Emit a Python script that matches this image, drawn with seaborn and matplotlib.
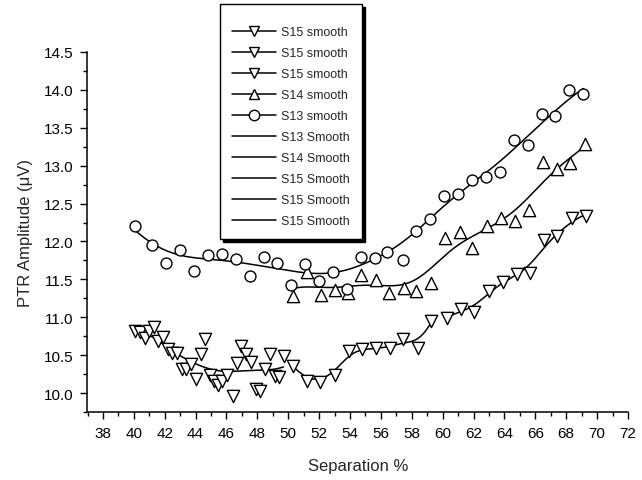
import numpy as np
import pandas as pd
import matplotlib
matplotlib.use("Agg")
import matplotlib.pyplot as plt
from matplotlib.lines import Line2D
from matplotlib.ticker import MultipleLocator
import seaborn as sns

# ---------------- data ----------------
s13_x = [40.1, 41.2, 42.1, 43.0, 43.9, 44.8, 45.7, 46.6, 47.5, 48.4, 49.3, 50.2, 51.1,
         52.0, 52.9, 53.8, 54.7, 55.6, 56.4, 57.4, 58.3, 59.2, 60.1, 61.0, 61.9, 62.8,
         63.7, 64.6, 65.5, 66.4, 67.3, 68.2, 69.1]
s13_y = [12.20, 11.95, 11.71, 11.89, 11.61, 11.82, 11.84, 11.77, 11.54, 11.79, 11.72, 11.42, 11.70,
         11.48, 11.60, 11.37, 11.79, 11.78, 11.86, 11.75, 12.14, 12.30, 12.60, 12.63, 12.81, 12.85,
         12.92, 13.34, 13.27, 13.68, 13.65, 14.00, 13.95]

s14_x = [50.3, 51.2, 52.1, 53.0, 53.9, 54.7, 55.7, 56.5, 57.5, 58.3, 59.25, 60.15, 61.1,
         61.9, 62.9, 63.8, 64.7, 65.6, 66.5, 67.4, 68.25, 69.2]
s14_y = [11.28, 11.60, 11.30, 11.36, 11.32, 11.56, 11.49, 11.32, 11.38, 11.35, 11.45, 12.05, 12.13,
         11.91, 12.20, 12.31, 12.27, 12.42, 13.05, 12.95, 13.03, 13.29]

s15a_x = [40.07, 40.39, 40.72, 41.0, 41.3, 41.58, 41.9, 42.22, 42.5, 42.8, 43.09, 43.41, 43.73,
          44.01, 44.32, 44.6, 44.92, 45.18, 45.46, 45.74, 46.06, 46.39, 46.68, 46.97, 47.29,
          47.61, 47.94, 48.2, 48.47, 48.8, 49.12, 49.4, 49.7]
s15a_y = [10.82, 10.80, 10.73, 10.82, 10.87, 10.69, 10.74, 10.58, 10.53, 10.53, 10.32, 10.32, 10.38,
          10.18, 10.51, 10.71, 10.24, 10.16, 10.10, 10.16, 10.24, 9.96, 10.40, 10.62, 10.51,
          10.41, 10.05, 10.03, 10.32, 10.51, 10.23, 10.21, 10.49]

s15b_x = [50.3, 51.21, 52.07, 53.0, 53.92, 54.79, 55.69, 56.6, 57.46, 58.38, 59.25]
s15b_y = [10.36, 10.16, 10.15, 10.24, 10.56, 10.58, 10.59, 10.59, 10.71, 10.60, 10.95]

s15c_x = [60.26, 61.19, 62.05, 62.97, 63.88, 64.78, 65.67, 66.57, 67.43, 68.36, 69.27]
s15c_y = [10.99, 11.11, 11.07, 11.35, 11.47, 11.57, 11.58, 12.02, 12.07, 12.31, 12.34]

legend_labels = ["S15 smooth", "S15 smooth", "S15 smooth", "S14 smooth", "S13 smooth",
                 "S13 Smooth", "S14 Smooth", "S15 Smooth", "S15 Smooth", "S15 Smooth"]

x_ticks = list(range(38, 73, 2))
y_ticks = [10.0, 10.5, 11.0, 11.5, 12.0, 12.5, 13.0, 13.5, 14.0, 14.5]


def local_linear(xs, ys, bw, n=200):
    """Gaussian-weighted local linear smoother evaluated over the data range."""
    x = np.asarray(xs, float)
    y = np.asarray(ys, float)
    grid = np.linspace(x.min(), x.max(), n)
    out = []
    for g in grid:
        w = np.exp(-0.5 * ((x - g) / bw) ** 2)
        X = np.column_stack([np.ones_like(x), x - g])
        W = np.diag(w)
        beta = np.linalg.solve(X.T @ W @ X, X.T @ W @ y)
        out.append(beta[0])
    return grid, np.array(out)


# ---------------- style ----------------
sns.set_theme(style="ticks")
plt.rcParams["font.family"] = ["Liberation Sans", "DejaVu Sans"]

fig = plt.figure(figsize=(6.42, 4.81), dpi=100)
ax = fig.add_axes([87.5 / 642, 68 / 481, 540.5 / 642, 360 / 481])

mk = dict(facecolor="white", edgecolor="black", linewidth=1.0, zorder=3)

series = [
    (s15a_x, s15a_y, "v", 1.3),
    (s15b_x, s15b_y, "v", 0.75),
    (s15c_x, s15c_y, "v", 0.9),
    (s14_x, s14_y, "^", 1.5),
    (s13_x, s13_y, "o", 1.8),
]

for xs, ys, m, bw in series:
    df = pd.DataFrame({"x": xs, "y": ys})
    sns.scatterplot(data=df, x="x", y="y", marker=m, s=78 if m != "o" else 62, ax=ax, **mk)
    gx, gy = local_linear(xs, ys, bw)
    sns.lineplot(x=gx, y=gy, ax=ax, color="black", lw=1.1, estimator=None, sort=False)

ax.set_xlim(37, 72)
ax.set_ylim(9.75, 14.5)
ax.set_xticks(x_ticks)
ax.set_yticks(y_ticks)
ax.set_yticklabels([f"{v:.1f}" for v in y_ticks])
ax.xaxis.set_minor_locator(MultipleLocator(1))
ax.yaxis.set_minor_locator(MultipleLocator(0.25))
ax.tick_params(which="major", direction="out", length=5, width=1, labelsize=11,
               colors="black", pad=5)
ax.tick_params(which="minor", direction="out", length=3, width=1, colors="black")
for sp in ["top", "right"]:
    ax.spines[sp].set_visible(False)
for sp in ["left", "bottom"]:
    ax.spines[sp].set_linewidth(1.1)
    ax.spines[sp].set_color("black")

ax.set_xlabel("Separation %", fontsize=12, labelpad=13)
ax.set_ylabel("PTR Amplitude (\u03bcV)", fontsize=12, labelpad=8)

# legend proxies
markers = ["v", "v", "v", "^", "o", None, None, None, None, None]
handles = []
for m in markers:
    if m is None:
        handles.append(Line2D([], [], color="black", lw=1.1))
    else:
        handles.append(Line2D([], [], color="black", lw=1.1, marker=m, markersize=7.5,
                              markerfacecolor="white", markeredgecolor="black"))
leg = ax.legend(handles, legend_labels, loc="upper left",
                bbox_to_anchor=(220 / 642, 1 - 5 / 481), bbox_transform=fig.transFigure,
                fontsize=9, frameon=True, fancybox=False,
                shadow={"color": "black", "alpha": 1.0},
                title=" ", title_fontsize=0.5,
                handlelength=3.5, handletextpad=0.45, labelspacing=0.72,
                borderpad=0.96, borderaxespad=0)
leg.get_frame().set_edgecolor("black")
leg.get_frame().set_linewidth(1.0)

fig.savefig("out.png", dpi=100)
